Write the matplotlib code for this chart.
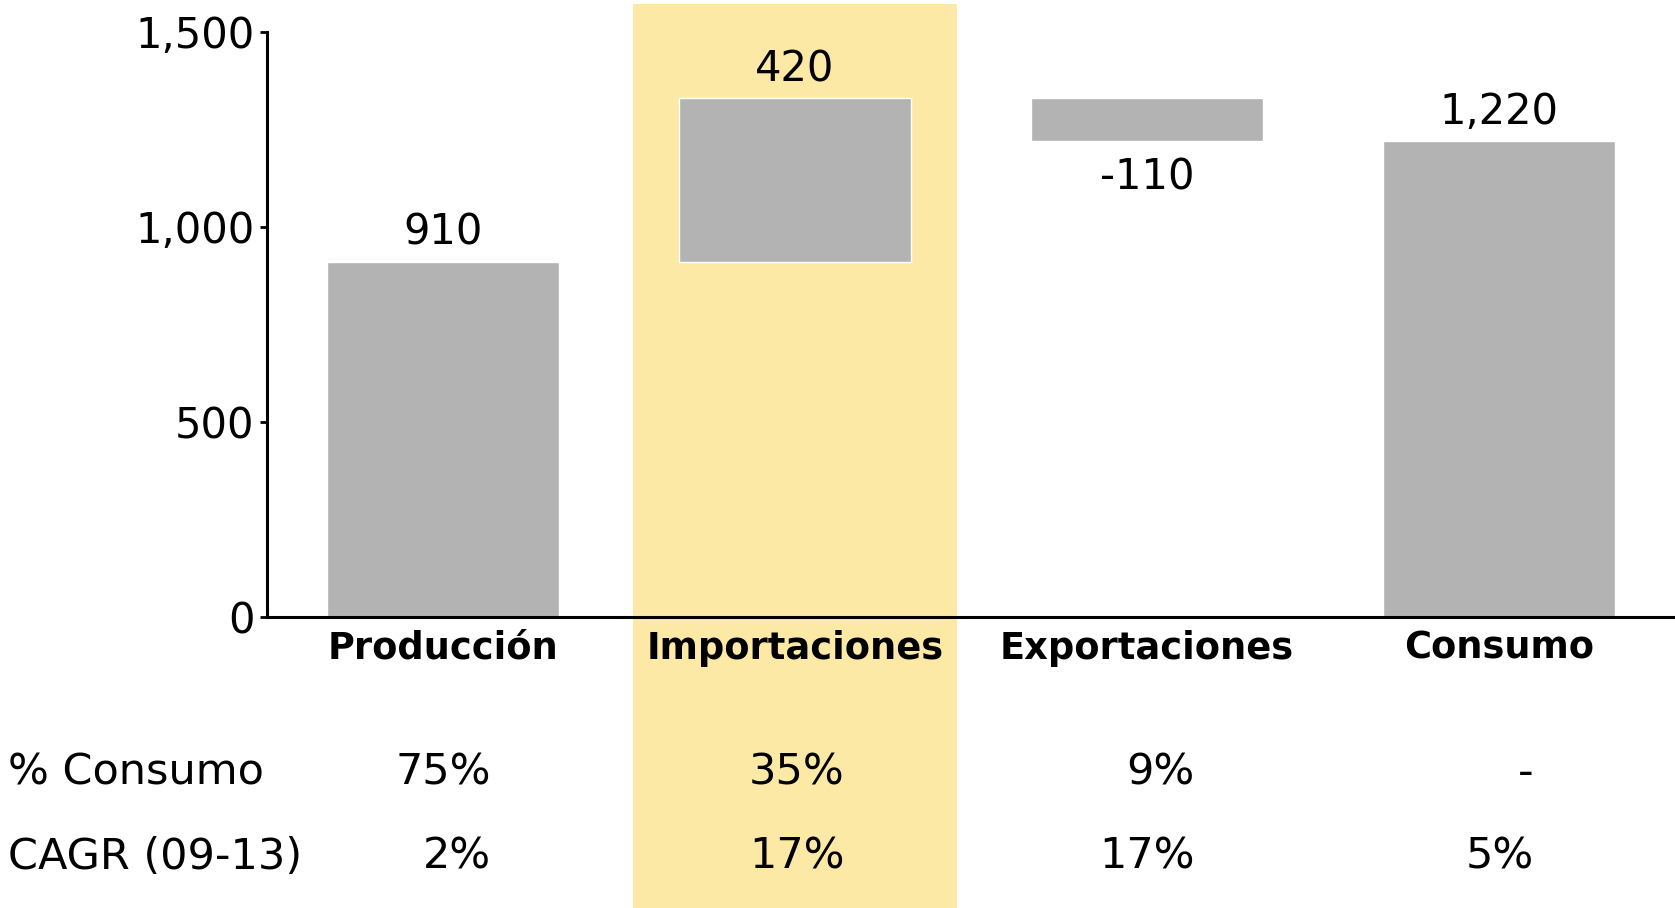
import matplotlib.pyplot as plt
import numpy as np

plt.rcParams["font.family"] = ["DejaVu Sans"]

# Data
categories = ["Producción", "Importaciones", "Exportaciones", "Consumo"]
values = [910, 420, -110, 1220]
is_total = [False, False, False, True]
pct_consumo = ["75%", "35%", "9%", "-"]
cagr = ["2%", "17%", "17%", "5%"]
row_labels = ["% Consumo", "CAGR (09-13)"]
highlight = 1  # Importaciones

BAR_GREY = "#b3b3b3"
BAND = "#fde9a6"


def main():
    # waterfall bottoms/heights
    bottoms, heights = [], []
    running = 0
    for v, tot in zip(values, is_total):
        if tot:
            bottoms.append(0)
            heights.append(v)
            running = v
        else:
            bottoms.append(running if v >= 0 else running + v)
            heights.append(abs(v))
            running += v

    fig = plt.figure(figsize=(16.75, 9.08), dpi=100)
    ax = fig.add_axes([0.1594, 0.3205, 0.8406, 0.6443])

    x = np.arange(len(categories))
    ax.bar(x, heights, bottom=bottoms, width=0.66, color=BAR_GREY,
           edgecolor="white", linewidth=1.0, zorder=2)

    # highlighted column band, extends over the table below
    ax.axvspan(highlight - 0.46, highlight + 0.46, ymin=-0.497, ymax=1.048,
               color=BAND, lw=0, zorder=0, clip_on=False)

    for i, v in enumerate(values):
        if v >= 0:
            y, off = bottoms[i] + heights[i], 21
        else:
            y, off = bottoms[i], -26
        ax.annotate(f"{v:,}", (x[i], y), xytext=(0, off), textcoords="offset points",
                    ha="center", va="center", fontsize=30)

    ax.set_xlim(-0.5, 3.5)
    ax.set_ylim(0, 1500)
    ax.set_yticks([0, 500, 1000, 1500])
    ax.set_yticklabels([f"{t:,}" for t in [0, 500, 1000, 1500]])
    ax.tick_params(axis="y", labelsize=30, length=5, width=2, pad=4)
    ax.set_xticks([])
    for s in ["top", "right"]:
        ax.spines[s].set_visible(False)
    for s in ["left", "bottom"]:
        ax.spines[s].set_linewidth(2.2)
        ax.spines[s].set_zorder(3)
    ax.patch.set_alpha(0)

    for i, c in enumerate(categories):
        ax.text(x[i], -80, c, ha="center", va="center", fontsize=26.5,
                fontweight="bold", clip_on=False)

    # table below the chart: right aligned columns
    col_right = [0.135, 0.14, 0.135, 0.098]
    for row, (lab, y) in enumerate(zip(row_labels, [-400, -615])):
        ax.text(-1.237, y, lab, ha="left", va="center", fontsize=31, clip_on=False)
        vals = pct_consumo if row == 0 else cagr
        for i, v in enumerate(vals):
            ax.text(x[i] + col_right[i], y, v, ha="right", va="center",
                    fontsize=31, clip_on=False)

    fig.savefig("out.png", dpi=100)


if __name__ == "__main__":
    main()
